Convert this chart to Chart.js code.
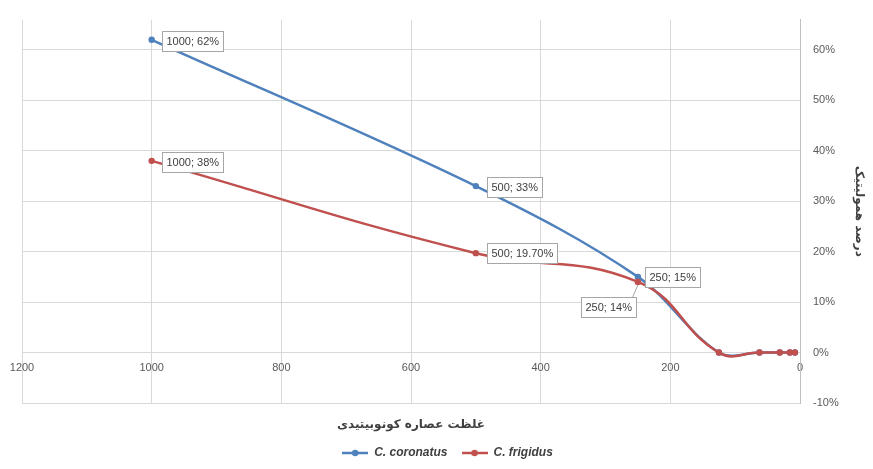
<!DOCTYPE html>
<html><head><meta charset="utf-8">
<script src="https://cdn.jsdelivr.net/npm/chart.js@4/dist/chart.umd.min.js"></script>
<style>html,body{margin:0;padding:0;background:#fff}canvas{display:block}</style>
</head><body><canvas id="c" width="873" height="469"></canvas>
<script>
// ---- data ----
const concentrations = [1000, 500, 250, 125, 62.5, 31.25, 15.625, 7.8125];
const coronatusValues = [0.62, 0.33, 0.15, 0, 0, 0, 0, 0];
const frigidusValues = [0.38, 0.197, 0.14, 0, 0, 0, 0, 0];
const coronatusLabels = ['1000; 62%', '500; 33%', '250; 15%'];
const frigidusLabels = ['1000; 38%', '500; 19.70%', '250; 14%'];
const seriesNames = ['C. coronatus', 'C. frigidus'];
const xTickValues = [0, 200, 400, 600, 800, 1000, 1200];
const yTickValues = [-0.1, 0, 0.1, 0.2, 0.3, 0.4, 0.5, 0.6];
const xTitle = 'غلظت عصاره کونوبیتیدی';
const yTitle = 'درصد همولیتیک';

// ---- styles ----
const BLUE = '#4F81BD', RED = '#C0504D';
const GRID = '#d9d9d9', TICK = '#595959';
const NARROW = "'Liberation Sans Narrow', 'Liberation Sans', Arial";
// label box offsets relative to point (left, top of box)
const labelPlacement = [
  [{dx: 10, dy: -9}, {dx: 11, dy: -9}, {dx: 7, dy: -10}],
  [{dx: 10, dy: -9}, {dx: 11, dy: -10}, {dx: -57, dy: 15, leader: true}]
];

function legendIcon(color) {
  const c = document.createElement('canvas');
  c.width = 26; c.height = 10;
  const g = c.getContext('2d');
  g.strokeStyle = color; g.lineWidth = 2.5;
  g.beginPath(); g.moveTo(0, 5); g.lineTo(26, 5); g.stroke();
  g.fillStyle = color; g.beginPath(); g.arc(13, 5, 3.2, 0, Math.PI * 2); g.fill();
  return c;
}

const dataLabelPlugin = {
  id: 'dataLabelBoxes',
  afterDatasetsDraw(chart) {
    const ctx = chart.ctx;
    const allLabels = [coronatusLabels, frigidusLabels];
    ctx.save();
    ctx.font = "11px " + NARROW;
    ctx.textBaseline = 'middle';
    ctx.textAlign = 'left';
    allLabels.forEach((labels, di) => {
      const meta = chart.getDatasetMeta(di);
      labels.forEach((txt, i) => {
        const pt = meta.data[i];
        const pl = labelPlacement[di][i];
        const w = Math.ceil(ctx.measureText(txt).width) + 8;
        const h = 20;
        const bx = Math.round(pt.x + pl.dx) + 0.5, by = Math.round(pt.y + pl.dy) + 0.5;
        if (pl.leader) {
          ctx.strokeStyle = '#a6a6a6'; ctx.lineWidth = 1;
          ctx.beginPath(); ctx.moveTo(bx + w - 4, by); ctx.lineTo(pt.x, pt.y + 3); ctx.stroke();
        }
        ctx.fillStyle = '#fff';
        ctx.fillRect(bx, by, w, h);
        ctx.strokeStyle = '#a6a6a6'; ctx.lineWidth = 1;
        ctx.strokeRect(bx, by, w, h);
        ctx.fillStyle = '#404040';
        ctx.fillText(txt, bx + 4, by + h / 2 + 0.5);
      });
    });
    ctx.restore();
  }
};

const toPoints = vals => concentrations.map((x, i) => ({x, y: vals[i]}));

new Chart(document.getElementById('c'), {
  type: 'line',
  data: {
    datasets: [
      {label: seriesNames[0], data: toPoints(coronatusValues), borderColor: BLUE, backgroundColor: BLUE,
       borderWidth: 2.5, pointRadius: 3.2, pointBorderWidth: 0, tension: 0.35, order: 1},
      {label: seriesNames[1], data: toPoints(frigidusValues), borderColor: RED, backgroundColor: RED,
       borderWidth: 2.5, pointRadius: 3.2, pointBorderWidth: 0, tension: 0.45, order: 0}
    ]
  },
  options: {
    responsive: false, animation: false, devicePixelRatio: 1,
    layout: {padding: {left: 22, top: 15, right: 0, bottom: 0}},
    plugins: {
      tooltip: {enabled: false},
      legend: {
        position: 'bottom',
        labels: {
          usePointStyle: true, pointStyleWidth: 26, boxHeight: 10, padding: 14,
          color: '#404040',
          font: {family: NARROW, size: 12, style: 'italic', weight: 'bold'},
          generateLabels: chart => chart.data.datasets.map((d, i) => ({
            text: d.label, pointStyle: legendIcon(d.borderColor), fillStyle: d.borderColor,
            strokeStyle: d.borderColor, lineWidth: 0, datasetIndex: i, hidden: false, fontColor: '#404040'
          }))
        }
      }
    },
    scales: {
      x: {
        type: 'linear', min: 0, max: 1200, reverse: true,
        position: {y: 0},
        afterBuildTicks: s => { s.ticks = xTickValues.map(v => ({value: v})); },
        grid: {color: GRID, drawTicks: false},
        border: {display: true, color: GRID},
        ticks: {color: TICK, padding: 9, callback: v => String(v), font: {family: NARROW, size: 11}}
      },
      x2: {
        type: 'linear', min: 0, max: 1200, reverse: true, position: 'bottom', axis: 'x',
        grid: {display: false}, border: {display: false}, ticks: {display: false},
        afterFit: s => { s.height = 30; },
        title: {display: true, text: xTitle, color: '#404040', padding: {top: 0, bottom: 1},
                font: {family: "'DejaVu Sans'", size: 12, weight: 'bold'}}
      },
      y: {
        type: 'linear', position: 'right', min: -0.1, max: 0.66,
        afterBuildTicks: s => { s.ticks = yTickValues.map(v => ({value: v})); },
        afterFit: s => { s.width = 73; },
        grid: {color: GRID, drawTicks: false},
        border: {display: true, color: '#bfbfbf'},
        ticks: {color: TICK, padding: 13, callback: v => Math.round(v * 100) + '%',
                font: {family: NARROW, size: 11}},
        title: {display: true, text: yTitle, color: '#404040', padding: {top: 7, bottom: 0},
                font: {family: "'DejaVu Sans'", size: 12, weight: 'bold'}}
      }
    }
  },
  plugins: [dataLabelPlugin]
});
</script></body></html>
